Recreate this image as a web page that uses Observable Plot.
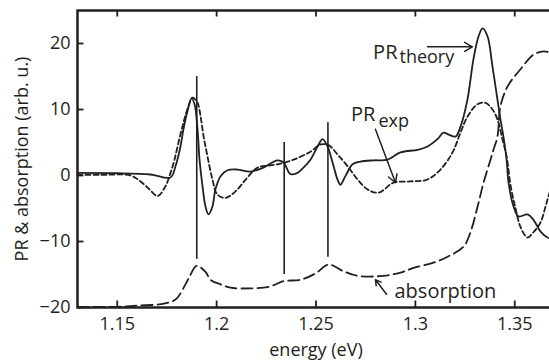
<!DOCTYPE html>
<html><head><meta charset="utf-8">
<script src="https://cdn.jsdelivr.net/npm/d3@7"></script>
<script src="https://cdn.jsdelivr.net/npm/@observablehq/plot@0.6"></script>
<style>
body{margin:0;overflow:hidden;background:#fff}
#chart svg{overflow:hidden;display:block}
</style>
</head><body><div id="chart"></div>
<script>
// PR theory (solid)
const theoryE = [1.130,1.150,1.1667,1.1768,1.1793,1.1818,1.1833,1.1853,1.1874,1.1889,1.1904,1.1914,1.1929,1.1944,1.1959,1.1979,1.1994,1.2020,1.2055,1.2105,1.2170,1.2236,1.2306,1.2336,1.2372,1.2407,1.2437,1.2472,1.2508,1.2533,1.2558,1.2583,1.2608,1.2623,1.2648,1.2684,1.2724,1.2789,1.2860,1.2925,1.3011,1.3061,1.3111,1.3142,1.3167,1.3202,1.3227,1.3262,1.3292,1.3318,1.3338,1.3363,1.3388,1.3413,1.3428,1.3443,1.3459,1.3469,1.3494,1.3519,1.3564,1.3594,1.3630,1.3665,1.3700];
const theoryV = [0.4,0.35,0.15,-0.3,1.4,4.4,7,9.7,11.7,10.8,7,2.4,-1.6,-4.7,-5.9,-4.7,-2.1,-0.1,0.8,0.9,0.6,1.2,2.3,2.0,0.2,0.4,1.2,2.4,4.4,5.5,4.4,2.0,-0.6,-1.4,-0.1,1.7,2.1,2.3,2.4,3.5,3.9,4.4,5.5,6.5,6.2,5.9,7.4,11.5,17.6,21.1,22.3,21.1,16.5,11.5,8.5,5.9,2.4,-1.1,-4.7,-6.2,-5.9,-6.7,-8.5,-9.4,-9.6];
// PR experiment (short dashes)
const expE = [1.130,1.1416,1.1567,1.1617,1.1662,1.1703,1.1743,1.1768,1.1788,1.1808,1.1833,1.1858,1.1879,1.1904,1.1919,1.1934,1.1954,1.1979,1.2004,1.2045,1.2095,1.2155,1.2206,1.2261,1.2306,1.2387,1.2472,1.2523,1.2563,1.2608,1.2659,1.2709,1.2759,1.2815,1.2890,1.2975,1.3061,1.3126,1.3187,1.3227,1.3262,1.3313,1.3353,1.3388,1.3413,1.3438,1.3459,1.3479,1.3504,1.3529,1.3564,1.3594,1.3630,1.3655,1.3675,1.3700];
const expV = [0.1,0.1,0.0,-0.9,-2.1,-3.1,-1.6,0.4,2.4,5,8,10.5,11.8,11,9,6,2.9,-0.6,-2.9,-3.4,-2.4,-0.3,1.2,1.5,1.7,2.4,3.6,4.7,4.6,3.2,1.4,-0.6,-2.1,-2.6,-1.1,-0.9,-0.6,0.9,3.5,6.5,8.9,10.8,11,10,8.5,5.5,2.9,-1.5,-5,-7.8,-9.4,-8.6,-7.1,-4.7,-2.6,-0.5];
// absorption (long dashes)
const absE = [1.130,1.150,1.160,1.1718,1.1793,1.1843,1.1869,1.1899,1.1944,1.1969,1.2020,1.2070,1.2170,1.2271,1.2336,1.2422,1.2500,1.2563,1.2638,1.2709,1.2840,1.2925,1.2991,1.3091,1.3162,1.3242,1.3277,1.3313,1.3343,1.3378,1.3393,1.3413,1.3428,1.3464,1.3529,1.3594,1.3645,1.3700];
const absV = [-19.9,-19.9,-19.7,-19.5,-18.8,-16.5,-15.0,-13.7,-14.6,-15.8,-16.5,-17.0,-17.1,-16.8,-16.0,-15.8,-14.8,-13.5,-14.5,-15.2,-15.2,-14.7,-14.0,-13.2,-12.3,-10.8,-8.6,-4.7,-1.1,2.4,3.9,5.9,10.5,13.5,16.1,18.3,18.8,18.4];
// transition markers (vertical lines)
const markE = [1.190,1.234,1.256];
const markTop = [15,5,8];
const markBottom = [-12.7,-15,-12.4];
// ticks
const xTicks = [1.15,1.2,1.25,1.3,1.35];
const xTickLabels = ["1.15","1.2","1.25","1.3","1.35"];
const yTicks = [-20,-10,0,10,20];
// annotations
const annoText = ["PR","theory","PR","exp","absorption"];
const annoE = [1.2910,1.2920,1.2799,1.2814,1.2895];
const annoV = [17.7,17.0,8.2,7.4,-18.5];
const annoAnchor = ["end","start","end","start","start"];
const annoSize = [20,18,20,18,20];
const arrowE1 = [1.3061,1.2799,1.2855];
const arrowV1 = [19.5,7.0,-18.0];
const arrowE2 = [1.3287,1.2900,1.2799];
const arrowV2 = [19.5,-1.1,-15.8];

const ink = "#231f20";
const xDomain = [1.13, 1.37], yDomain = [-20, 25];
const W = 549, H = 363, mL = 77, mR = -5, mT = 10, mB = 56;
const frameW = W - mL - mR, frameH = H - mT - mB, tickLen = 6.5;
// tick length converted to data units
const tx = tickLen * (xDomain[1] - xDomain[0]) / frameW;
const ty = tickLen * (yDomain[1] - yDomain[0]) / frameH;

const theory = theoryE.map((e,i)=>({e, v: theoryV[i]}));
const exp = expE.map((e,i)=>({e, v: expV[i]}));
const abs = absE.map((e,i)=>({e, v: absV[i]}));
const marks = markE.map((e,i)=>({e, y1: markTop[i], y2: markBottom[i]}));
const anno = annoText.map((t,i)=>({t, e: annoE[i], v: annoV[i], a: annoAnchor[i], s: annoSize[i]}));
const arrows = arrowE1.map((e,i)=>({x1:e, y1:arrowV1[i], x2:arrowE2[i], y2:arrowV2[i]}));
const tickRows = xTicks.map(x => ({x}));
const yTickRows = yTicks.map(y => ({y}));

const textMarks = [];
for (const a of ["end","start"]) for (const s of [18,20]) {
  const d = anno.filter(o=>o.a===a && o.s===s);
  if (d.length) textMarks.push(Plot.text(d, {x: "e", y: "v", text: "t", textAnchor: a, lineAnchor: "bottom", fill: ink, fontSize: s}));
}

const plot = Plot.plot({
  width: W, height: H,
  marginLeft: mL, marginRight: mR, marginTop: mT, marginBottom: mB,
  style: {fontFamily: "Open Sans", fontSize: "20px", color: ink, background: "#fff"},
  x: {domain: xDomain},
  y: {domain: yDomain},
  marks: [
    Plot.line(abs, {x: "e", y: "v", stroke: ink, strokeWidth: 1.8, strokeDasharray: "11,5", curve: "catmull-rom"}),
    Plot.line(exp, {x: "e", y: "v", stroke: ink, strokeWidth: 1.8, strokeDasharray: "5,3", curve: "catmull-rom"}),
    Plot.line(theory, {x: "e", y: "v", stroke: ink, strokeWidth: 1.8, curve: "catmull-rom"}),
    Plot.ruleX(marks, {x: "e", y1: "y1", y2: "y2", stroke: ink, strokeWidth: 1.6}),
    Plot.arrow(arrows, {x1: "x1", y1: "y1", x2: "x2", y2: "y2", stroke: ink, strokeWidth: 1.5, headLength: 9}),
    ...textMarks,
    // inward ticks
    Plot.ruleX(tickRows, {x: "x", y1: () => yDomain[0], y2: () => yDomain[0] + ty, stroke: ink, strokeWidth: 1.8}),
    Plot.ruleX(tickRows, {x: "x", y1: () => yDomain[1], y2: () => yDomain[1] - ty, stroke: ink, strokeWidth: 1.8}),
    Plot.ruleY(yTickRows, {y: "y", x1: () => xDomain[0], x2: () => xDomain[0] + tx, stroke: ink, strokeWidth: 1.8}),
    Plot.axisX({anchor: "bottom", ticks: xTicks, tickFormat: d=>xTickLabels[xTicks.indexOf(d)], tickSize: 0, tickPadding: 10, fontSize: 18, label: "energy (eV)", labelAnchor: "center", labelArrow: "none", labelOffset: 48, fill: ink}),
    Plot.axisY({anchor: "left", ticks: yTicks, tickSize: 0, tickPadding: 7, fontSize: 18, label: "PR & absorption (arb. u.)", labelAnchor: "center", labelArrow: "none", labelOffset: 62, fill: ink}),
    Plot.frame({stroke: ink, strokeWidth: 2.5})
  ]
});
document.getElementById("chart").appendChild(plot);
</script>
</body></html>
